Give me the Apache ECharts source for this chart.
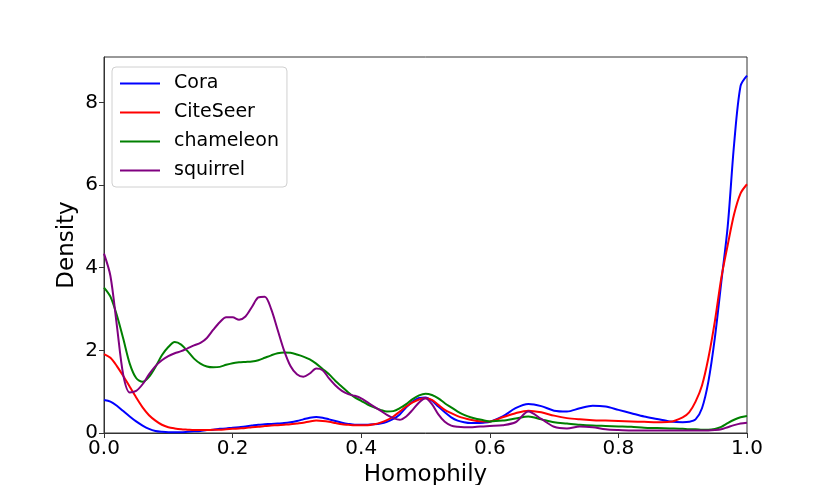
<!DOCTYPE html>
<html>
<head>
<meta charset="utf-8">
<script src="https://cdn.jsdelivr.net/npm/echarts@6/dist/echarts.min.js"></script>
<style>
  html, body { margin: 0; padding: 0; background: #fff; }
  #chart { width: 830px; height: 485px; }
</style>
</head>
<body>
<div id="chart"></div>
<script>
// homophily grid (x positions shared by all four curves)
var homophily = [
  0.00, 0.01, 0.02, 0.03, 0.04, 0.05, 0.06, 0.07, 0.08, 0.09,
  0.10, 0.11, 0.12, 0.13, 0.14, 0.15, 0.16, 0.17, 0.18, 0.19,
  0.20, 0.21, 0.22, 0.23, 0.24, 0.25, 0.26, 0.27, 0.28, 0.29,
  0.30, 0.31, 0.32, 0.33, 0.34, 0.35, 0.36, 0.37, 0.38, 0.39,
  0.40, 0.41, 0.42, 0.43, 0.44, 0.45, 0.46, 0.47, 0.48, 0.49,
  0.50, 0.51, 0.52, 0.53, 0.54, 0.55, 0.56, 0.57, 0.58, 0.59,
  0.60, 0.62, 0.64, 0.66, 0.68, 0.70, 0.72, 0.74, 0.76, 0.78,
  0.80, 0.82, 0.84, 0.86, 0.88, 0.90, 0.91, 0.92, 0.93, 0.94,
  0.95, 0.96, 0.97, 0.98, 0.99, 1.00
];

var cora = [
  0.80, 0.76, 0.66, 0.53, 0.40, 0.28, 0.18, 0.10, 0.05, 0.03,
  0.02, 0.02, 0.02, 0.03, 0.04, 0.05, 0.07, 0.08, 0.10, 0.11,
  0.13, 0.14, 0.16, 0.18, 0.20, 0.21, 0.22, 0.23, 0.24, 0.26,
  0.29, 0.33, 0.37, 0.39, 0.37, 0.33, 0.29, 0.25, 0.22, 0.20,
  0.20, 0.20, 0.21, 0.23, 0.27, 0.34, 0.45, 0.62, 0.76, 0.85,
  0.86, 0.78, 0.64, 0.50, 0.38, 0.30, 0.26, 0.24, 0.24, 0.25,
  0.27, 0.40, 0.60, 0.70, 0.65, 0.54, 0.52, 0.60, 0.66, 0.64,
  0.56, 0.48, 0.40, 0.34, 0.28, 0.26, 0.27, 0.33, 0.60, 1.25,
  2.30, 3.65, 5.00, 7.00, 8.40, 8.65
];

var citeseer = [
  1.91, 1.82, 1.62, 1.38, 1.12, 0.86, 0.62, 0.43, 0.30, 0.20,
  0.14, 0.11, 0.09, 0.08, 0.07, 0.07, 0.07, 0.08, 0.08, 0.09,
  0.10, 0.11, 0.12, 0.14, 0.15, 0.17, 0.18, 0.19, 0.20, 0.21,
  0.23, 0.25, 0.28, 0.30, 0.29, 0.27, 0.24, 0.21, 0.20, 0.19,
  0.19, 0.19, 0.21, 0.25, 0.31, 0.40, 0.52, 0.64, 0.74, 0.81,
  0.84, 0.80, 0.68, 0.56, 0.48, 0.41, 0.36, 0.32, 0.29, 0.28,
  0.28, 0.38, 0.48, 0.54, 0.50, 0.42, 0.36, 0.33, 0.31, 0.30,
  0.29, 0.28, 0.27, 0.26, 0.27, 0.38, 0.50, 0.76, 1.15, 1.82,
  2.70, 3.75, 4.55, 5.30, 5.80, 6.02
];

var chameleon = [
  3.52, 3.30, 2.85, 2.28, 1.68, 1.33, 1.24, 1.36, 1.60, 1.88,
  2.08, 2.20, 2.14, 1.98, 1.80, 1.68, 1.61, 1.59, 1.60, 1.65,
  1.69, 1.71, 1.72, 1.73, 1.76, 1.82, 1.88, 1.93, 1.95, 1.94,
  1.90, 1.85, 1.78, 1.68, 1.55, 1.42, 1.26, 1.12, 0.98, 0.86,
  0.78, 0.69, 0.62, 0.56, 0.52, 0.53, 0.60, 0.70, 0.82, 0.91,
  0.95, 0.92, 0.84, 0.72, 0.62, 0.52, 0.44, 0.38, 0.34, 0.31,
  0.28, 0.30, 0.35, 0.40, 0.33, 0.26, 0.23, 0.20, 0.18, 0.17,
  0.16, 0.15, 0.13, 0.12, 0.11, 0.10, 0.09, 0.09, 0.08, 0.08,
  0.10, 0.15, 0.24, 0.32, 0.38, 0.41
];

var squirrel = [
  4.34, 3.80, 2.60, 1.40, 0.98, 1.02, 1.18, 1.42, 1.62, 1.76,
  1.86, 1.93, 1.98, 2.05, 2.12, 2.18, 2.30, 2.50, 2.68, 2.80,
  2.80, 2.74, 2.82, 3.05, 3.28, 3.30, 3.00, 2.50, 2.00, 1.62,
  1.42, 1.36, 1.44, 1.56, 1.52, 1.32, 1.15, 1.02, 0.94, 0.90,
  0.84, 0.74, 0.64, 0.54, 0.44, 0.36, 0.32, 0.40, 0.56, 0.74,
  0.84, 0.70, 0.45, 0.27, 0.18, 0.15, 0.14, 0.14, 0.15, 0.16,
  0.17, 0.19, 0.26, 0.52, 0.34, 0.15, 0.11, 0.16, 0.14, 0.09,
  0.07, 0.06, 0.06, 0.06, 0.06, 0.06, 0.06, 0.06, 0.06, 0.06,
  0.07, 0.09, 0.14, 0.19, 0.23, 0.25
];

var xTicks = [0, 0.2, 0.4, 0.6, 0.8, 1.0];
var yTicks = [0, 2, 4, 6, 8];

function pairs(ys) {
  return homophily.map(function (x, i) { return [x, ys[i]]; });
}

var font = 'DejaVu Sans';
var myChart = echarts.init(document.getElementById('chart'), null, { renderer: 'canvas' });

function curve(name, color, ys) {
  return {
    name: name,
    type: 'line',
    data: pairs(ys),
    smooth: 0.3,
    symbol: 'none',
    lineStyle: { color: color, width: 2 },
    itemStyle: { color: color }
  };
}

var option = {
  backgroundColor: '#fff',
  animation: false,
  grid: {
    left: 104, right: 83, top: 57, bottom: 52,
    containLabel: false,
    outerBoundsMode: 'none',
    show: true, borderColor: '#333', borderWidth: 1
  },
  legend: {
    orient: 'vertical',
    left: 112, top: 67,
    icon: 'rect',
    itemWidth: 40, itemHeight: 2, itemGap: 10,
    padding: [7, 8, 7, 8],
    borderColor: '#d0d0d0', borderWidth: 1, borderRadius: 4,
    backgroundColor: '#fff',
    textStyle: { fontFamily: font, fontSize: 19, color: '#000', padding: [0, 0, 0, 9] },
    data: ['Cora', 'CiteSeer', 'chameleon', 'squirrel']
  },
  xAxis: {
    type: 'value',
    min: 0, max: 1, interval: 0.2,
    name: 'Homophily',
    nameLocation: 'middle',
    nameGap: 27,
    nameTextStyle: { fontFamily: font, fontSize: 23, color: '#000' },
    axisLine: { show: true, lineStyle: { color: '#333', width: 1 } },
    axisTick: { show: true, length: 5, lineStyle: { color: '#333' } },
    axisLabel: {
      fontFamily: font, fontSize: 20, color: '#000', margin: 6,
      formatter: function (v) { return xTicks.indexOf(+v.toFixed(1)) >= 0 ? v.toFixed(1) : ''; }
    },
    splitLine: { show: false }
  },
  yAxis: {
    type: 'value',
    min: 0, max: 9.1, interval: 2,
    name: 'Density',
    nameLocation: 'middle',
    nameGap: 25,
    nameMoveOverlap: false,
    nameTextStyle: { fontFamily: font, fontSize: 23, color: '#000' },
    axisLine: { show: true, lineStyle: { color: '#333', width: 1 } },
    axisTick: { show: true, length: 5, lineStyle: { color: '#333' } },
    axisLabel: {
      fontFamily: font, fontSize: 20, color: '#000', margin: 6,
      showMaxLabel: false,
      formatter: function (v) { return yTicks.indexOf(v) >= 0 ? String(v) : ''; }
    },
    splitLine: { show: false }
  },
  series: [
    curve('Cora', '#0000ff', cora),
    curve('CiteSeer', '#ff0000', citeseer),
    curve('chameleon', '#008000', chameleon),
    curve('squirrel', '#800080', squirrel)
  ]
};

myChart.setOption(option);
</script>
</body>
</html>
